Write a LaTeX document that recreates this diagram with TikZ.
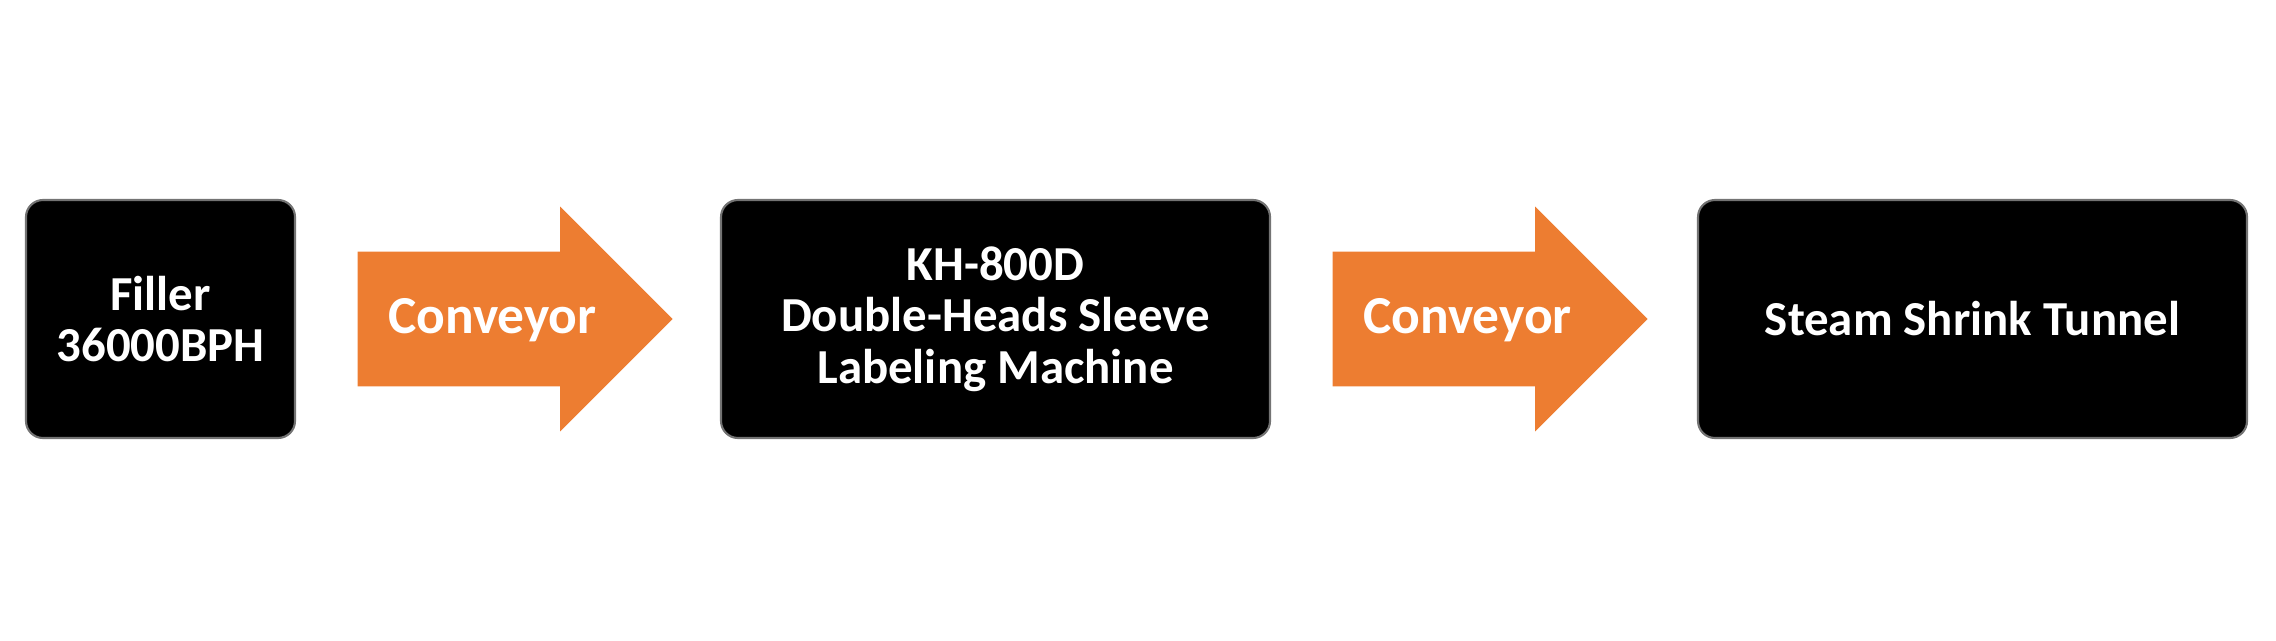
\documentclass[tikz,border=0pt]{standalone}
\usepackage{fontspec}
\setmainfont{Carlito}
\usepackage{xcolor}
\usepackage{tikz}
\usetikzlibrary{shapes.arrows}
\definecolor{beltorange}{HTML}{ED7D31}

\begin{document}
\begin{tikzpicture}[-,thick,
                    main node/.style={rectangle,rounded corners=0.17cm,fill=black,draw=black!55,line width=0.6pt,
                                      text=white,align=center,minimum height=2.38cm,
                                      font=\fontsize{13.9}{14.6}\selectfont\bfseries},
                    belt node/.style={single arrow,fill=beltorange,draw=none,text=white,
                                      text height=0.4cm,text depth=0.12cm,inner ysep=0.4cm,inner xsep=0pt,
                                      minimum height=3.15cm,
                                      single arrow head extend=0.45cm,single arrow tip angle=90,
                                      execute at begin node=\hspace*{0.22cm},
                                      font=\fontsize{15.2}{16}\selectfont\bfseries}]
 \useasboundingbox (0,0) rectangle (22.76,6.40);

 \node[main node,minimum width=2.69cm] (1) at (1.605,3.21) {Filler\\36000BPH};

 \node[belt node] (belt1) at (4.814,3.21) {Conveyor};

 \node[main node,minimum width=5.49cm] (2) at (9.955,3.21) {KH-800D\\Double-Heads Sleeve\\Labeling Machine};

 \node[belt node] (belt2) at (14.564,3.21) {Conveyor};

 \node[main node,minimum width=5.49cm] (3) at (19.725,3.21) {Steam Shrink Tunnel};

\end{tikzpicture}
\end{document}
